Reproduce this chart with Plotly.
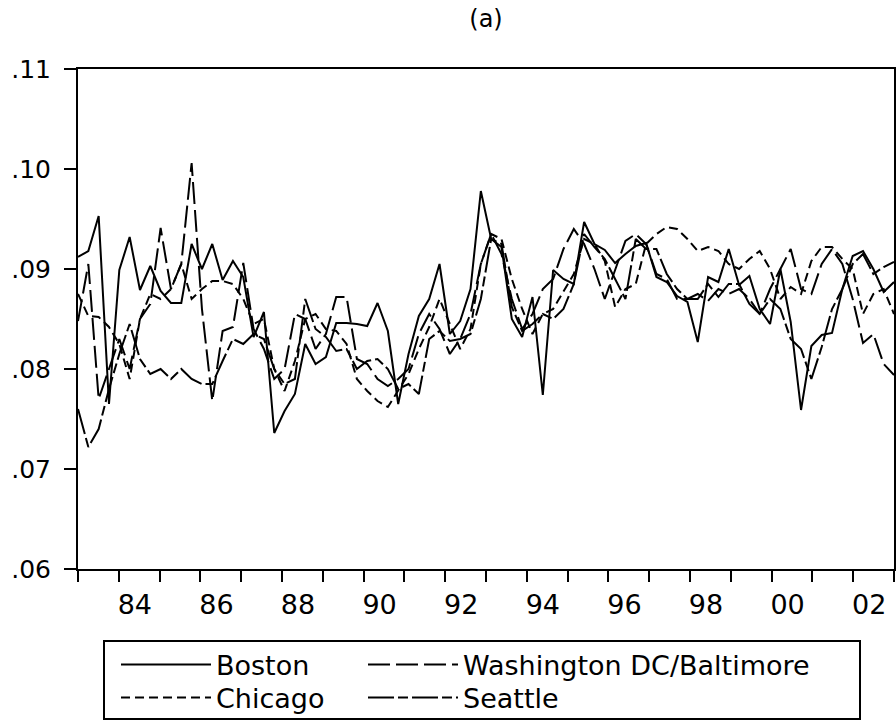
import plotly.graph_objects as go

# Quarterly observations 1983Q1 - 2002Q4
quarters = [f"{1983 + i // 4}Q{i % 4 + 1}" for i in range(80)]

boston = [
    .0912, .0918, .0953, .0765, .0899, .0932, .0879, .0903, .0878, .0866,
    .0866, .0925, .0900, .0925, .0889, .0908, .0892, .0832, .0857, .0736,
    .0758, .0775, .0825, .0805, .0812, .0846, .0846, .0845, .0843, .0866,
    .0838, .0765, .0815, .0853, .0870, .0905, .0835, .0848, .0880, .0978,
    .0930, .0922, .0850, .0832, .0872, .0774, .0899, .0890, .0885, .0947,
    .0925, .0919, .0906, .0915, .0923, .0926, .0892, .0887, .0873, .0867,
    .0827, .0892, .0887, .0920, .0884, .0893, .0860, .0845, .0900, .0847,
    .0759, .0823, .0834, .0836, .0880, .0913, .0918, .0900, .0877, .0887,
]

washington = [
    .0848, .0905, .0770, .0800, .0830, .0800, .0850, .0865, .0941, .0880,
    .0905, .1006, .0860, .0768, .0838, .0842, .0906, .0840, .0820, .0790,
    .0800, .0855, .0850, .0820, .0835, .0872, .0872, .0810, .0805, .0790,
    .0783, .0790, .0800, .0835, .0855, .0840, .0815, .0830, .0855, .0905,
    .0935, .0915, .0870, .0840, .0855, .0880, .0890, .0920, .0940, .0925,
    .0900, .0870, .0900, .0928, .0935, .0925, .0895, .0890, .0870, .0870,
    .0875, .0868, .0880, .0875, .0880, .0870, .0855, .0880, .0900, .0920,
    .0880, .0875, .0905, .0920, .0905, .0870, .0826, .0835, .0805, .0794,
]

chicago = [
    .0875, .0853, .0852, .0842, .0825, .0790, .0850, .0875, .0870, .0880,
    .0905, .0870, .0880, .0888, .0888, .0885, .0870, .0845, .0850, .0800,
    .0778, .0808, .0850, .0855, .0840, .0838, .0825, .0790, .0778, .0768,
    .0762, .0778, .0795, .0820, .0842, .0870, .0845, .0820, .0840, .0905,
    .0935, .0930, .0890, .0860, .0835, .0855, .0860, .0878, .0895, .0930,
    .0925, .0908, .0862, .0880, .0885, .0925, .0935, .0942, .0940, .0930,
    .0918, .0922, .0918, .0905, .0900, .0910, .0918, .0900, .0870, .0882,
    .0875, .0908, .0922, .0922, .0910, .0900, .0855, .0875, .0880, .0855,
]

seattle = [
    .0760, .0722, .0740, .0780, .0815, .0845, .0810, .0795, .0800, .0790,
    .0800, .0790, .0785, .0785, .0808, .0830, .0825, .0835, .0830, .0800,
    .0785, .0790, .0870, .0840, .0832, .0818, .0820, .0800, .0808, .0810,
    .0800, .0780, .0785, .0775, .0830, .0838, .0828, .0830, .0835, .0870,
    .0930, .0925, .0862, .0838, .0845, .0855, .0850, .0860, .0885, .0935,
    .0922, .0910, .0890, .0870, .0930, .0920, .0920, .0895, .0880, .0870,
    .0870, .0885, .0872, .0885, .0885, .0865, .0855, .0870, .0860, .0830,
    .0820, .0790, .0822, .0860, .0880, .0905, .0915, .0895, .0902, .0907,
]

y_ticks = [0.06, 0.07, 0.08, 0.09, 0.10, 0.11]
y_tick_labels = [".06", ".07", ".08", ".09", ".10", ".11"]
year_ticks = list(range(1983, 2004))
year_labels = ["" if (y - 1983) % 2 == 0 else f"{y % 100:02d}" for y in year_ticks]

FONT = "DejaVu Sans"
n = len(quarters)
xpos = list(range(n))
# EViews-style axis: year ticks divide the full sample span evenly
tick_pos = [(y - 1983) * (n - 1) / (len(year_ticks) - 1) for y in year_ticks]

W, H = 896, 721
ml, mr, mt, mb = 78, 2, 69, 152
pw = W - ml - mr
ph = H - mt - mb

def px_x(px):
    return (px - ml) / pw

def px_y(py):
    return (H - mb - py) / ph

# name, values, dash, legend id, legend left px, legend row centre px
series = [
    ("Boston", boston, "solid", "legend", 116, 665),
    ("Washington DC/Baltimore", washington, "22px,6px", "legend2", 363, 665),
    ("Chicago", chicago, "9px,5px", "legend3", 116, 698),
    ("Seattle", seattle, "26px,4px,10px,4px", "legend4", 363, 698),
]

fig = go.Figure()
legends = {}
for name, vals, dash, lg, lx, ly in series:
    fig.add_trace(go.Scatter(
        x=xpos, y=vals, mode="lines", name=name, legend=lg,
        customdata=quarters,
        line=dict(color="black", width=2, dash=dash),
    ))
    legends[lg] = dict(
        x=px_x(lx), xanchor="left", y=px_y(ly), yanchor="middle",
        orientation="v", itemwidth=90, bgcolor="rgba(0,0,0,0)", borderwidth=0,
        font=dict(size=27, family=FONT, color="black"),
    )

fig.update_layout(
    width=W, height=H,
    margin=dict(l=ml, r=mr, t=mt, b=mb, autoexpand=False),
    paper_bgcolor="white", plot_bgcolor="white",
    font=dict(family=FONT, color="black"),
    title=dict(text="(a)", x=0.5, xref="paper", xanchor="center",
               y=1 - 19 / H, yref="container", yanchor="middle",
               font=dict(size=24, family=FONT, color="black")),
    xaxis=dict(
        range=[0, n - 1], tickmode="array", tickvals=tick_pos, ticktext=year_labels,
        ticks="outside", ticklen=11, tickwidth=2, tickcolor="black",
        showline=True, linewidth=2, linecolor="black", mirror=True,
        showgrid=False, zeroline=False, ticklabelshift=16,
        tickfont=dict(size=27, family=FONT, color="black"),
    ),
    yaxis=dict(
        range=[0.06, 0.11], tickmode="array", tickvals=y_ticks, ticktext=y_tick_labels,
        ticks="outside", ticklen=12, tickwidth=2, tickcolor="black",
        showline=True, linewidth=2, linecolor="black", mirror=True,
        showgrid=False, zeroline=False, ticklabelstandoff=8,
        tickfont=dict(size=25, family=FONT, color="black"),
    ),
    shapes=[dict(
        type="rect", xref="paper", yref="paper",
        x0=px_x(104), x1=px_x(860), y0=px_y(719), y1=px_y(641),
        line=dict(color="black", width=2), fillcolor="rgba(0,0,0,0)",
    )],
    showlegend=True,
    **legends,
)

fig.write_html("out.html")
